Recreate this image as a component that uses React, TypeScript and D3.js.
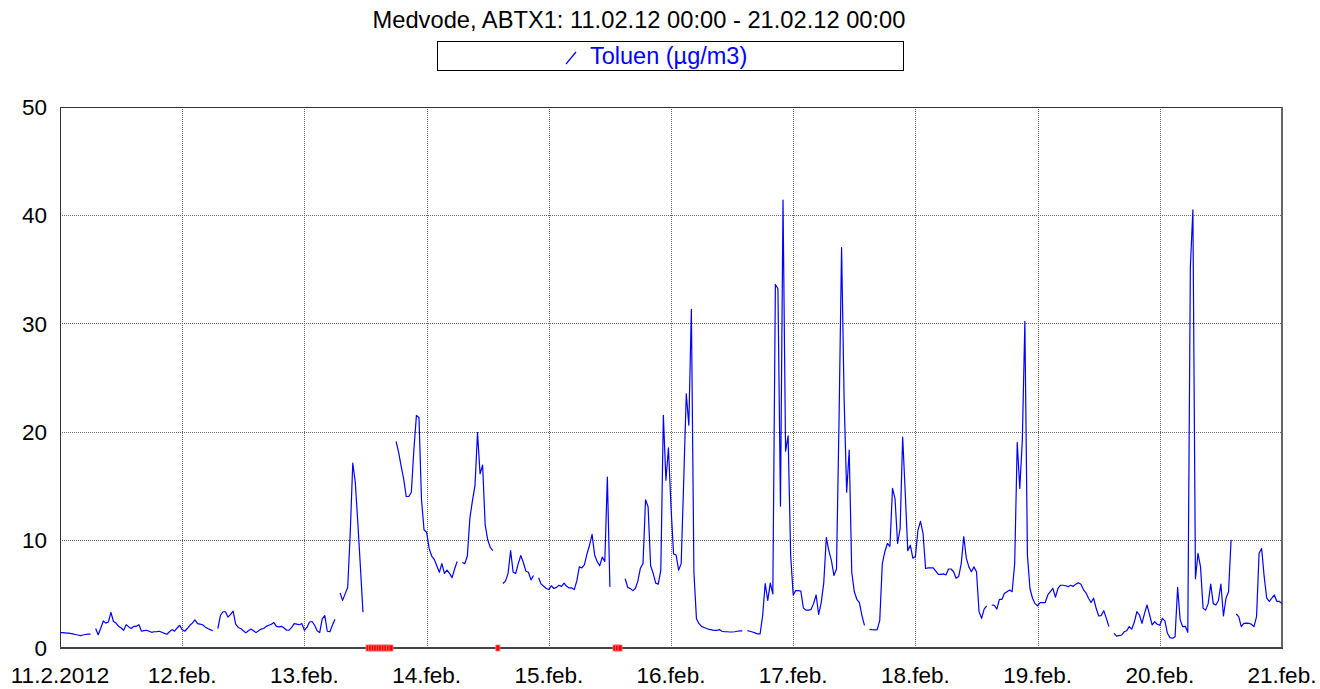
import React from 'react';
import * as d3 from 'd3';

// Toluen, half-hourly values (µg/m3), one array per day; null = no measurement
const day11 = [1.42, 1.42, 1.4, 1.38, 1.35, 1.3, 1.25, 1.2, 1.15, 1.2, 1.25, 1.28, 1.28, null, 1.8, 1.23, 1.82, 2.5, 2.3, 2.4, 3.3, 2.45, 2.3, 2.0, 1.85, 1.64, 2.16, 1.95, 1.8, 2.0, 2.0, 2.16, 1.55, 1.6, 1.64, 1.55, 1.45, 1.5, 1.52, 1.55, 1.45, 1.35, 1.27, 1.5, 1.7, 1.55, 1.85, 2.1];
const day12 = [1.7, 1.55, 1.8, 2.1, 2.3, 2.6, 2.25, 2.2, 2.15, 1.95, 1.8, 1.7, 1.6, null, 1.8, 3.0, 3.35, 3.35, 2.85, 3.1, 3.4, 2.2, 1.9, 1.8, 1.6, 1.4, 1.6, 1.75, 1.6, 1.42, 1.6, 1.75, 1.8, 2.0, 2.1, 2.2, 2.35, 2.0, 1.95, 2.0, 1.85, 1.64, 1.65, 1.9, 2.25, 2.2, 2.15, 2.25];
const day13 = [1.64, 1.9, 2.4, 2.45, 2.1, 1.6, 1.42, 2.7, 3.0, 1.55, 1.5, 2.1, 2.65, null, 5.1, 4.4, 5.0, 5.6, 10.6, 17.1, 15.3, 11.5, 7.5, 3.3, null, null, null, null, null, null, null, null, null, null, null, null, 19.1, 18.1, 16.8, 15.6, 14.0, 14.0, 14.4, 18.3, 21.5, 21.3, 13.7, 10.9];
const day14 = [10.7, 9.2, 8.5, 8.2, 7.6, 7.0, 7.8, 6.9, 7.2, 6.9, 6.5, 7.3, 8.0, null, 7.9, 7.8, 8.5, 12.0, 13.6, 15.0, 19.9, 16.1, 16.9, 11.4, 10.0, 9.3, 9.0, null, null, null, 5.96, 6.2, 6.9, 9.0, 7.0, 6.9, 7.8, 8.55, 7.9, 7.1, 7.0, 6.3, 6.7, null, 6.5, 5.9, 5.7, 5.5];
const day15 = [5.4, 5.75, 5.5, 5.6, 5.8, 5.7, 6.0, 5.7, 5.55, 5.55, 5.4, 6.2, 7.5, 7.4, 7.7, 8.7, 9.5, 10.5, 8.6, 8.0, 7.6, 8.4, 8.0, 15.8, 5.65, null, null, null, null, null, 6.4, 5.6, 5.5, 5.3, 5.5, 6.2, 7.4, 7.8, 13.7, 13.05, 7.6, 6.9, 6.0, 5.9, 7.2, 21.5, 15.5, 18.5];
const day16 = [13.05, 8.7, 8.6, 7.2, 7.8, 15.5, 23.5, 20.6, 31.3, 7.0, 2.7, 2.25, 2.0, 1.9, 1.8, 1.72, 1.68, 1.62, 1.62, 1.7, 1.55, 1.5, 1.5, 1.48, 1.48, 1.5, 1.55, 1.58, 1.58, null, 1.6, 1.55, 1.48, 1.4, 1.3, 1.3, 3.0, 5.96, 4.4, 6.0, 5.0, 33.6, 33.2, 13.1, 41.4, 18.2, 19.6, 8.6];
const day17 = [4.9, 5.3, 5.3, 5.25, 3.7, 3.5, 3.5, 3.55, 4.1, 4.9, 3.1, 4.2, 6.0, 10.2, 9.0, 8.1, 6.7, 7.3, 21.0, 37.0, 23.0, 14.4, 18.3, 7.0, 5.2, 4.5, 4.2, 3.0, 2.1, null, 1.73, 1.7, 1.68, 1.7, 2.56, 7.8, 8.9, 9.66, 9.4, 14.75, 13.8, 9.66, 11.05, 19.5, 14.4, 9.0, 9.5, 8.3];
const day18 = [8.45, 10.9, 11.7, 10.6, 7.35, 7.4, 7.4, 7.4, 7.1, 6.8, 6.8, 6.85, 6.75, 7.3, 7.3, 7.05, 6.45, 6.6, 7.8, 10.3, 8.3, 7.5, 7.05, 7.5, 7.05, 3.36, 2.74, 3.6, 3.9, null, 3.97, 3.95, 3.6, 4.5, 4.5, 5.05, 5.2, 5.36, 5.2, 7.8, 19.0, 14.75, 19.2, 30.2, 8.6, 5.5, 4.6, 4.1];
const day19 = [3.9, 4.2, 4.2, 4.2, 4.9, 5.2, 5.5, 4.7, 5.5, 5.8, 5.8, 5.75, 5.67, 5.8, 5.7, 5.9, 6.04, 5.9, 5.4, 5.1, 4.6, 4.2, 4.6, 3.67, 2.96, 3.0, 3.45, 2.74, 2.0, null, 1.36, 1.1, 1.15, 1.2, 1.5, 1.6, 1.97, 1.75, 2.4, 3.36, 3.05, 2.28, 3.2, 3.97, 3.05, 2.13, 2.43, 2.2];
const day20 = [2.1, 2.74, 2.5, 1.36, 0.96, 0.9, 1.05, 5.6, 2.6, 1.97, 2.0, 1.45, 35.2, 40.5, 6.4, 8.75, 7.5, 3.67, 3.5, 4.1, 5.9, 4.1, 3.97, 4.37, 5.9, 2.96, 4.6, 5.2, 10.0, null, 3.14, 2.9, 1.97, 2.28, 2.3, 2.28, 2.19, 1.97, 2.9, 8.75, 9.2, 6.6, 4.6, 4.3, 4.6, 4.9, 4.3, 4.3];
const day21 = [4.1];

// half-hour slots (counted from 11.02.12 00:00) with a red flag on the axis
const flagSlots = [121, 122, 123, 124, 125, 126, 127, 128, 129, 130, 172, 218, 219, 220];

const yTicks = [0, 10, 20, 30, 40, 50];
const xTickLabels = ['11.2.2012', '12.feb.', '13.feb.', '14.feb.', '15.feb.', '16.feb.', '17.feb.', '18.feb.', '19.feb.', '20.feb.', '21.feb.'];

const title = 'Medvode, ABTX1: 11.02.12 00:00 - 21.02.12 00:00';
const seriesName = 'Toluen (µg/m3)';

const FONT = '"Liberation Sans", Arial, sans-serif';

type Pt = { t: Date; v: number | null };

const App: React.FC = () => {
  const start = new Date(2012, 1, 11, 0, 0);
  const end = new Date(2012, 1, 21, 0, 0);
  const values = [...day11, ...day12, ...day13, ...day14, ...day15, ...day16, ...day17, ...day18, ...day19, ...day20, ...day21];
  const data: Pt[] = values.map((v, i) => ({ t: d3.timeMinute.offset(start, i * 30), v }));

  const x = d3.scaleTime().domain([start, end]).range([60, 1282]);
  const y = d3.scaleLinear().domain([0, 50]).range([648, 107]);
  const days = d3.timeDay.range(start, d3.timeDay.offset(end, 1));

  const line = d3.line<Pt>()
    .defined((d) => d.v !== null)
    .x((d) => x(d.t))
    .y((d) => y(d.v as number));

  return (
    <svg width={1320} height={689} style={{ position: 'absolute', left: 0, top: 0, background: '#fff' }} fontFamily={FONT}>
      <text x={639} y={28} fontSize={23.7} textAnchor="middle" fill="#000">{title}</text>
      <rect x={437.5} y={41.5} width={466} height={29} fill="#fff" stroke="#000" strokeWidth={1} />
      <line x1={566} y1={64} x2={576} y2={52} stroke="#0000ff" strokeWidth={1.2} />
      <text x={590} y={64} fontSize={23.5} fill="#0000ff">{seriesName}</text>

      {/* grid */}
      {yTicks.slice(1, -1).map((t) => (
        <line key={'gy' + t} x1={60} x2={1282} y1={Math.round(y(t)) + 0.5} y2={Math.round(y(t)) + 0.5}
          stroke="#666" strokeDasharray="1,1" />
      ))}
      {days.slice(1, -1).map((d) => (
        <line key={'gx' + d.getTime()} y1={107} y2={648} x1={Math.round(x(d)) + 0.5} x2={Math.round(x(d)) + 0.5}
          stroke="#666" strokeDasharray="1,1" />
      ))}

      {/* frame */}
      <line x1={60} x2={1282} y1={107.5} y2={107.5} stroke="#333" />
      <line x1={60.5} x2={60.5} y1={107} y2={648} stroke="#333" />
      <line x1={1282} x2={1282} y1={107} y2={649} stroke="#666" strokeWidth={2} />
      <line x1={60} x2={1283} y1={648} y2={648} stroke="#444" strokeWidth={2} />

      <path d={line(data) ?? ''} fill="none" stroke="#0000ff" strokeWidth={1.2} strokeLinejoin="round" />

      {flagSlots.map((s) => (
        <rect key={'f' + s} x={x(d3.timeMinute.offset(start, s * 30)) - 2} y={645} width={4} height={6}
          fill="#ff0000" stroke="#ff7070" strokeWidth={0.8} />
      ))}

      {yTicks.map((t) => (
        <text key={'yt' + t} x={47} y={y(t)} dy="0.36em" fontSize={22.5} textAnchor="end" fill="#000">{t}</text>
      ))}
      {days.map((d, i) => (
        <text key={'xt' + i} x={x(d)} y={683} fontSize={22.5} textAnchor="middle" fill="#000">{xTickLabels[i]}</text>
      ))}
    </svg>
  );
};

export default App;
